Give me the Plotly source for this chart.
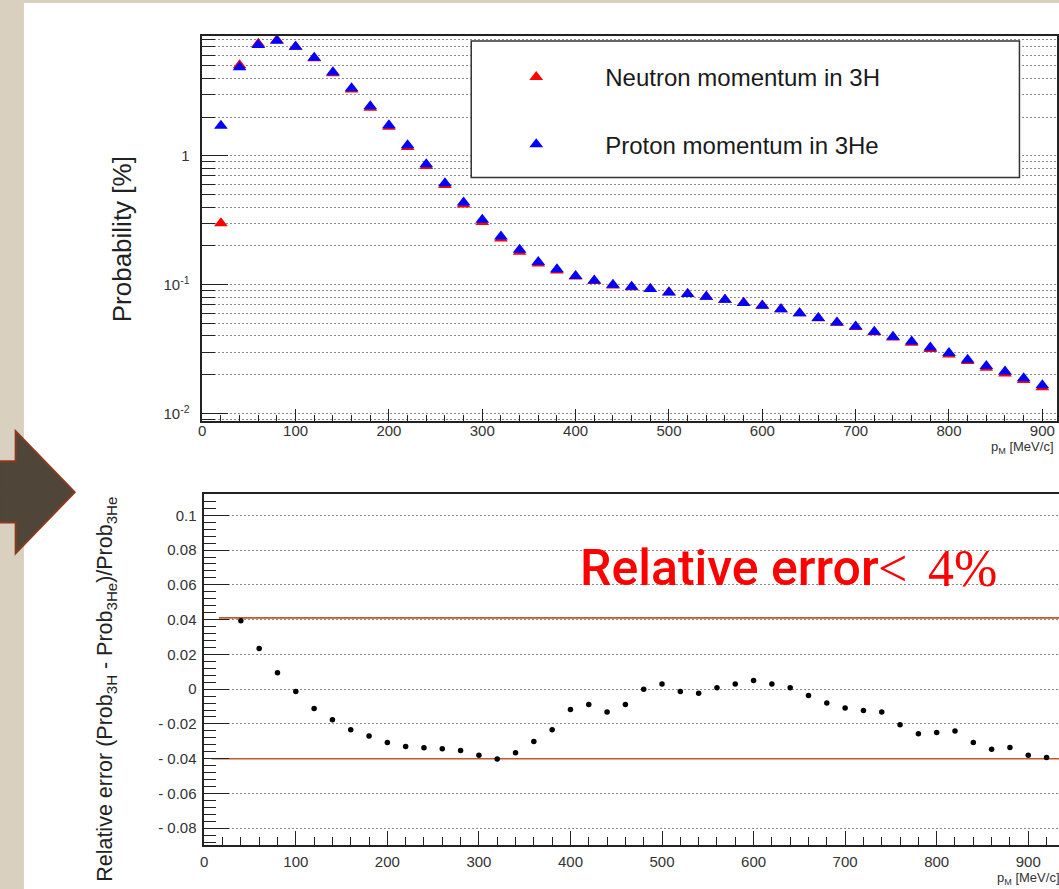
import plotly.graph_objects as go

# ---- data -------------------------------------------------------------
p_mom = [20, 40, 60, 80, 100, 120, 140, 160, 180, 200, 220, 240, 260, 280, 300,
         320, 340, 360, 380, 400, 420, 440, 460, 480, 500, 520, 540, 560, 580, 600,
         620, 640, 660, 680, 700, 720, 740, 760, 780, 800, 820, 840, 860, 880, 900]

# neutron momentum distribution in 3H [%]
prob_3h = [0.30, 5.06, 7.42, 7.90, 7.02, 5.72, 4.38, 3.27, 2.36, 1.68, 1.17, 0.833,
           0.593, 0.420, 0.307, 0.228, 0.180, 0.146, 0.129, 0.116, 0.107, 0.0987,
           0.0956, 0.0925, 0.0874, 0.0846, 0.0805, 0.0766, 0.0724, 0.0691, 0.0646,
           0.0601, 0.0550, 0.0506, 0.0470, 0.0427, 0.0390, 0.0354, 0.0317, 0.0288,
           0.0256, 0.0227, 0.0205, 0.0182, 0.0160]

# proton momentum distribution in 3He [%]
prob_3he = [1.71, 4.87, 7.25, 7.83, 7.03, 5.78, 4.46, 3.35, 2.43, 1.73, 1.21, 0.862,
            0.614, 0.435, 0.319, 0.237, 0.187, 0.150, 0.132, 0.117, 0.108, 0.100,
            0.0965, 0.0925, 0.0871, 0.0847, 0.0807, 0.0765, 0.0722, 0.0688, 0.0644,
            0.0600, 0.0552, 0.0510, 0.0475, 0.0432, 0.0395, 0.0362, 0.0325, 0.0295,
            0.0262, 0.0234, 0.0212, 0.0188, 0.0166]

p_rel = [40, 60, 80, 100, 120, 140, 160, 180, 200, 220, 240, 260, 280, 300, 320,
         340, 360, 380, 400, 420, 440, 460, 480, 500, 520, 540, 560, 580, 600, 620,
         640, 660, 680, 700, 720, 740, 760, 780, 800, 820, 840, 860, 880, 900, 920]

# (Prob_3H - Prob_3He) / Prob_3He
rel_err = [0.0393, 0.0234, 0.0094, -0.0013, -0.0111, -0.0176, -0.0234, -0.0270,
           -0.0307, -0.0330, -0.0337, -0.0343, -0.0353, -0.0380, -0.0402, -0.0366,
           -0.0301, -0.0234, -0.0117, -0.0088, -0.0132, -0.0088, 0.0000, 0.0029,
           -0.0013, -0.0023, 0.0008, 0.0029, 0.0050, 0.0029, 0.0008, -0.0036,
           -0.0080, -0.0109, -0.0123, -0.0132, -0.0205, -0.0257, -0.0249, -0.0241,
           -0.0307, -0.0345, -0.0335, -0.0380, -0.0393]

# +/- 4 % bands
upper_limit = 0.041
lower_limit = -0.040
upper_start, lower_start, limit_end = 16, 8, 934

top_ticks = [0.01, 0.1, 1]
top_tick_text = ["10<sup>-2</sup>", "10<sup>-1</sup>", "1"]
top_minor = [m * d for d in (0.001, 0.01, 0.1, 1) for m in range(2, 10)]
bot_ticks = [0.1, 0.08, 0.06, 0.04, 0.02, 0, -0.02, -0.04, -0.06, -0.08]
bot_tick_text = ["0.1", "0.08", "0.06", "0.04", "0.02", "0",
                 "- 0.02", "- 0.04", "- 0.06", "- 0.08"]

# ---- figure -----------------------------------------------------------
W, H = 1059, 889
BG = "#dad0bf"
FONT = "Liberation Sans"
AX = "#222222"
GRID = "#8a8a8a"


def px(x):
    return x / W


def py(y):
    return 1 - y / H


fig = go.Figure()

fig.add_trace(go.Scatter(
    x=p_mom, y=prob_3h, mode="markers", name="Neutron momentum in 3H",
    marker=dict(symbol="triangle-up", size=12, color="#ff0000"),
    xaxis="x", yaxis="y", legendgroup="n"))
fig.add_trace(go.Scatter(
    x=p_mom, y=prob_3he, mode="markers", name="Proton momentum in 3He",
    marker=dict(symbol="triangle-up", size=12, color="#0000ff"),
    xaxis="x", yaxis="y", legendgroup="p"))

fig.add_trace(go.Scatter(
    x=[upper_start, limit_end], y=[upper_limit, upper_limit], mode="lines",
    line=dict(color="#c2582c", width=1.6), showlegend=False,
    xaxis="x2", yaxis="y2"))
fig.add_trace(go.Scatter(
    x=[lower_start, limit_end], y=[lower_limit, lower_limit], mode="lines",
    line=dict(color="#c2582c", width=1.6), showlegend=False,
    xaxis="x2", yaxis="y2"))
fig.add_trace(go.Scatter(
    x=p_rel, y=rel_err, mode="markers",
    marker=dict(symbol="circle", size=5.5, color="#000000"),
    showlegend=False, xaxis="x2", yaxis="y2"))

tickfont = dict(family=FONT, size=15, color="#333333")

fig.update_layout(
    width=W, height=H, autosize=False,
    margin=dict(l=0, r=0, t=0, b=0),
    paper_bgcolor=BG, plot_bgcolor="rgba(0,0,0,0)",
    font=dict(family=FONT, color="#222222"),
    xaxis=dict(
        domain=[px(199), px(1056.7)], anchor="y", range=[0, 915.4],
        tickvals=list(range(0, 1000, 100)), ticks="inside", ticklen=12,
        tickcolor=AX, tickwidth=1, tickfont=tickfont, ticklabelstandoff=-4,
        minor=dict(tickvals=list(range(0, 920, 20)), ticks="inside", ticklen=6,
                   tickcolor=AX, showgrid=False),
        showgrid=False, zeroline=False, showline=True, linecolor=AX,
        linewidth=1.5, mirror=True),
    yaxis=dict(
        domain=[py(421), py(35.7)], anchor="x", type="log",
        range=[-2.054, 0.933], tickvals=top_ticks, ticktext=top_tick_text,
        ticks="inside", ticklen=26, tickcolor=AX, tickfont=tickfont,
        ticklabelstandoff=8,
        showgrid=True, gridcolor=GRID, griddash="2px,2px", gridwidth=1,
        minor=dict(tickvals=top_minor, ticks="inside", ticklen=13,
                   tickcolor=AX, showgrid=True, gridcolor=GRID,
                   griddash="2px,2px", gridwidth=1),
        zeroline=False, showline=True, linecolor=AX, linewidth=1.5,
        mirror=True),
    xaxis2=dict(
        domain=[px(201), 1.0], anchor="y2", range=[0, 933.6],
        tickvals=list(range(0, 1000, 100)), ticks="inside", ticklen=14,
        tickcolor=AX, tickfont=tickfont, ticklabelstandoff=3,
        minor=dict(tickvals=list(range(0, 940, 20)), ticks="inside", ticklen=8,
                   tickcolor=AX, showgrid=False),
        showgrid=False, zeroline=False, showline=True, linecolor=AX,
        linewidth=1.5, mirror=True),
    yaxis2=dict(
        domain=[py(845.7), py(495)], anchor="x2", range=[-0.0895, 0.1120],
        tickvals=bot_ticks, ticktext=bot_tick_text, ticks="inside", ticklen=25,
        tickcolor=AX, tickfont=tickfont, ticklabelstandoff=3,
        showgrid=True, gridcolor=GRID, griddash="2px,2px", gridwidth=1,
        minor=dict(dtick=0.004, tick0=0, ticks="inside", ticklen=12,
                   tickcolor=AX, showgrid=False),
        zeroline=False, showline=True, linecolor=AX, linewidth=1.5,
        mirror=False),
    legend=dict(
        x=px(465), y=py(55), xanchor="left", yanchor="top",
        bgcolor="rgba(0,0,0,0)", borderwidth=0,
        font=dict(family=FONT, size=24, color="#1a1a1a"),
        itemwidth=128, tracegroupgap=33, itemsizing="constant"),
)

# slide panel and arrow
fig.add_shape(type="rect", xref="paper", yref="paper",
              x0=px(20), x1=1.02, y0=-0.02, y1=py(3),
              fillcolor="#ffffff", line=dict(width=0), layer="below")
arrow = [(-5, 461.7), (11.7, 461.7), (11.7, 431.7), (71, 492.7),
         (11.7, 554), (11.7, 523), (-5, 523)]
path = "M " + " L ".join(f"{px(x):.5f},{py(y):.5f}" for x, y in arrow) + " Z"
fig.add_shape(type="path", xref="paper", yref="paper", path=path,
              fillcolor="#4f4539", line=dict(color="#8a3b1c", width=2),
              layer="above")

# legend frame
fig.add_shape(type="rect", xref="paper", yref="paper",
              x0=px(469), x1=px(1019.3), y0=py(177.7), y1=py(41),
              fillcolor="#ffffff", line=dict(color="#333333", width=1.5),
              layer="above")

# axis titles
fig.add_annotation(xref="paper", yref="paper", x=px(118), y=py(240),
                   xanchor="center", yanchor="middle",
                   text="Probability [%]", textangle=-90, showarrow=False,
                   font=dict(family=FONT, size=26, color="#222222"))
fig.add_annotation(xref="paper", yref="paper", x=px(103), y=py(690),
                   xanchor="center", yanchor="middle",
                   text="Relative error (Prob<sub>3H</sub> - Prob<sub>3He</sub>)/Prob<sub>3He</sub>",
                   textangle=-90, showarrow=False,
                   font=dict(family=FONT, size=21.5, color="#222222"))
fig.add_annotation(xref="paper", yref="paper", x=px(1056), y=py(448),
                   xanchor="right", yanchor="middle",
                   text="p<sub>M</sub> [MeV/c]", showarrow=False,
                   font=dict(family=FONT, size=13, color="#333333"))
fig.add_annotation(xref="paper", yref="paper", x=px(1062), y=py(879),
                   xanchor="right", yanchor="middle",
                   text="p<sub>M</sub> [MeV/c]", showarrow=False,
                   font=dict(family=FONT, size=13, color="#333333"))

# highlighted statement
fig.add_annotation(xref="paper", yref="paper", x=px(576), y=py(569),
                   xanchor="left", yanchor="middle",
                   text="Relative error", showarrow=False,
                   font=dict(family="Roboto", size=50, color="#ff0000",
                             weight=500))
fig.add_annotation(xref="paper", yref="paper", x=px(875), y=py(569),
                   xanchor="left", yanchor="middle",
                   text="&lt;", showarrow=False,
                   font=dict(family="Liberation Serif", size=52, color="#ff0000"))
fig.add_annotation(xref="paper", yref="paper", x=px(925), y=py(569),
                   xanchor="left", yanchor="middle",
                   text="4%", showarrow=False,
                   font=dict(family="Liberation Serif", size=52, color="#ff0000"))

fig.write_html("out.html")
